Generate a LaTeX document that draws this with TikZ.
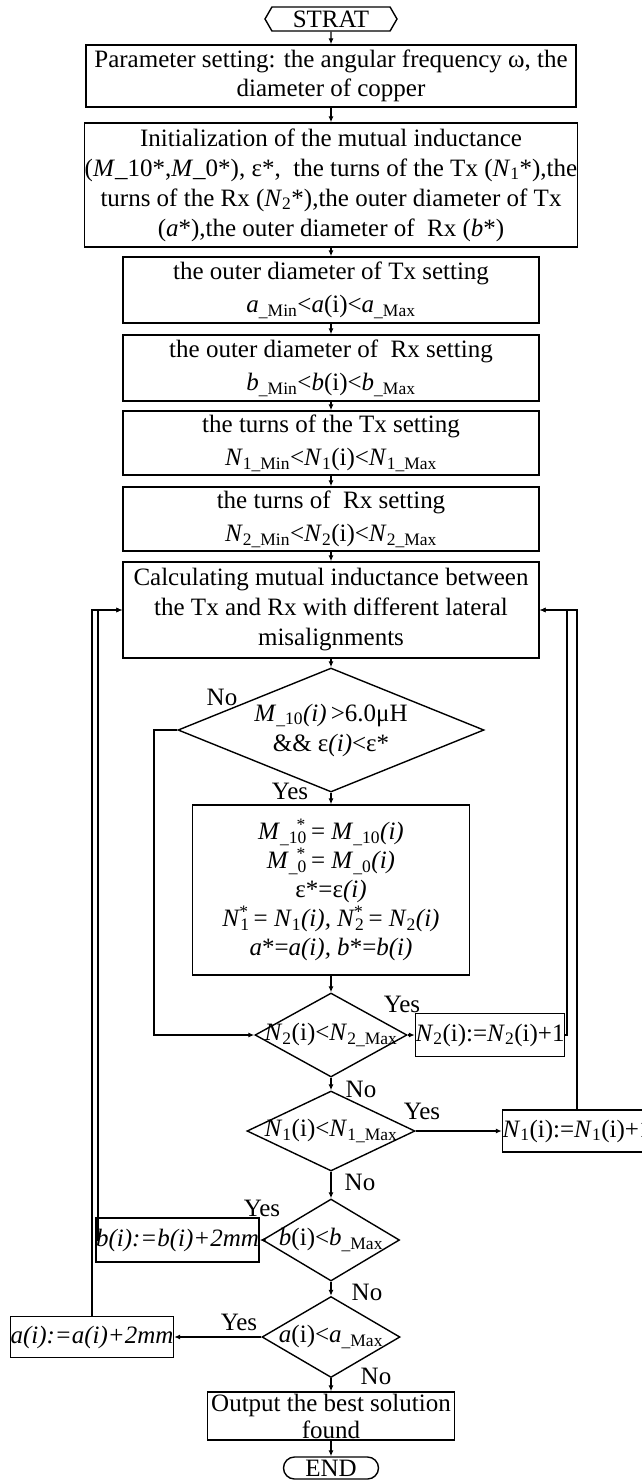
\documentclass[tikz,border=0pt]{standalone}
\usepackage{fontspec}
\setmainfont{Liberation Serif}
\usetikzlibrary{shapes.geometric,shapes.symbols,arrows.meta}

\newcommand{\sbs}[1]{\textsubscript{#1}}
\newcommand{\sbsp}[2]{\textsubscript{#1}\llap{\textsuperscript{#2}\kern1pt}}

\begin{document}
\begin{tikzpicture}[%
    x=1pt, y=-1pt,
    line width=1.4pt,
    font=\fontsize{25}{30}\selectfont,
    >={Latex[length=6pt,width=5pt]},
    process/.style={draw, rectangle, inner sep=0pt, align=center},
    setbox/.style={process, minimum width=416pt, font=\fontsize{25}{33}\selectfont},
    decision/.style={draw, diamond, inner sep=0pt},
    terminal/.style={draw, inner sep=0pt},
    answer/.style={inner sep=0pt}
  ]
    \useasboundingbox (0,0) rectangle (642,1481);

    \node[terminal, signal, signal to=west and east, signal pointer angle=120,
          minimum width=132pt, minimum height=24pt] (strat) at (331,19) {STRAT};
    \node[process, minimum width=490pt, minimum height=62pt,
          font=\fontsize{25}{29}\selectfont] (param) at (331,76)
      {Parameter setting: the angular frequency ω, the\\diameter of copper};
    \node[process, minimum width=490pt, minimum height=124pt] (init) at (331,185)
      {Initialization of the mutual inductance\\
       (\textit{M}\_10*,\textit{M}\_0*), ε*,\ \ the turns of the Tx (\textit{N}\sbs{1}*),the\\
       turns of the Rx (\textit{N}\sbs{2}*),the outer diameter of Tx\\
       (\textit{a}*),the outer diameter of\ \ Rx (\textit{b}*)};

    \node[setbox, minimum height=66pt] (txdia) at (331,290)
      {the outer diameter of Tx setting\\
       \textit{a}\sbs{\_Min}<\textit{a}(i)<\textit{a}\sbs{\_Max}};
    \node[setbox, minimum height=66pt] (rxdia) at (331,368)
      {the outer diameter of\ \ Rx setting\\
       \textit{b}\sbs{\_Min}<\textit{b}(i)<\textit{b}\sbs{\_Max}};
    \node[setbox, minimum height=64pt] (txturn) at (331,443)
      {the turns of the Tx setting\\
       \textit{N}\sbs{1\_Min}<\textit{N}\sbs{1}(i)<\textit{N}\sbs{1\_Max}};
    \node[setbox, minimum height=64pt] (rxturn) at (331,519)
      {the turns of\ \ Rx setting\\
       \textit{N}\sbs{2\_Min}<\textit{N}\sbs{2}(i)<\textit{N}\sbs{2\_Max}};
    \node[process, minimum width=416pt, minimum height=96pt] (calc) at (331,610)
      {Calculating mutual inductance between\\
       the Tx and Rx with different lateral\\
       misalignments};

    \node[decision, minimum width=306pt, minimum height=124pt,
          label={[align=center]center:{\textit{M}\sbs{\_10}\textit{(i)}\,>6.0μH\\
                 \&\&\ ε\textit{(i)}<ε*}}] (cond) at (331,730) {};
    \node[process, minimum width=277pt, minimum height=170pt,
          font=\fontsize{25}{29}\selectfont] (upd) at (331,890)
      {\textit{M}\sbsp{\_10}{*}\,= \textit{M}\sbs{\_10}\textit{(i)}\\
       \textit{M}\sbsp{\_0}{*}\,= \textit{M}\sbs{\_0}\textit{(i)}\\
       ε*=ε\textit{(i)}\\
       \textit{N}\sbsp{1}{*}\,= \textit{N}\sbs{1}\textit{(i), N}\sbsp{2}{*}\,= \textit{N}\sbs{2}\textit{(i)}\\
       \textit{a}*=\textit{a(i), b}*=\textit{b(i)}};

    \node[decision, minimum width=152pt, minimum height=84pt,
          label=center:{\textit{N}\sbs{2}(i)<\textit{N}\sbs{2\_Max}}] (n2chk) at (331,1035) {};
    \node[process, minimum width=142pt, minimum height=43pt] (n2inc) at (490,1035)
      {\textit{N}\sbs{2}(i):=\textit{N}\sbs{2}(i)+1};
    \node[decision, minimum width=168pt, minimum height=80pt,
          label=center:{\textit{N}\sbs{1}(i)<\textit{N}\sbs{1\_Max}}] (n1chk) at (331,1131) {};
    \node[process, minimum width=146pt, minimum height=42pt] (n1inc) at (577,1131)
      {\textit{N}\sbs{1}(i):=\textit{N}\sbs{1}(i)+1};
    \node[decision, minimum width=137pt, minimum height=82pt,
          label=center:{\textit{b}(i)<\textit{b}\sbs{\_Max}}] (bchk) at (331,1240) {};
    \node[process, minimum width=149pt, minimum height=44pt] (binc) at (177.5,1240)
      {\textit{b(i):=b(i)+2mm}};
    \node[decision, minimum width=138pt, minimum height=81pt,
          label=center:{\textit{a}(i)<\textit{a}\sbs{\_Max}}] (achk) at (331,1337) {};
    \node[process, minimum width=160pt, minimum height=41pt] (ainc) at (92,1337)
      {\textit{a(i):=a(i)+2mm}};

    \node[process, minimum width=247pt, minimum height=48pt,
          font=\fontsize{25}{27}\selectfont] (out) at (331,1416)
      {Output the best solution\\found};
    \node[terminal, rounded corners=11pt, minimum width=95pt, minimum height=22pt] (stop) at (331,1468) {END};

    \node[answer] (no1)  at (222,697)  {No};
    \node[answer] (yes1) at (290,791)  {Yes};
    \node[answer] (yes2) at (402,1004) {Yes};
    \node[answer] (no2)  at (361,1089) {No};
    \node[answer] (yes3) at (422,1111) {Yes};
    \node[answer] (no3)  at (360,1182) {No};
    \node[answer] (yes4) at (262,1208) {Yes};
    \node[answer] (no4)  at (367,1292) {No};
    \node[answer] (yes5) at (239,1322) {Yes};
    \node[answer] (no5)  at (376,1376) {No};

    \path[->] (strat)  edge (param)
              (param)  edge (init)
              (init)   edge (txdia)
              (txdia)  edge (rxdia)
              (rxdia)  edge (txturn)
              (txturn) edge (rxturn)
              (rxturn) edge (calc)
              (calc)   edge (cond)
              (cond)   edge (upd)
              (upd)    edge (n2chk)
              (n2chk)  edge (n2inc)
              (n2chk)  edge (n1chk)
              (n1chk)  edge (n1inc)
              (n1chk)  edge (bchk)
              (bchk)   edge (binc)
              (bchk)   edge (achk)
              (achk)   edge (ainc)
              (achk)   edge (out)
              (out)    edge (stop);

    \coordinate (noloop) at (154,730);
    \coordinate (n2loop) at (567,1035);
    \coordinate (bloop)  at (98,1240);
    \draw[->] (cond.west) -- (noloop) |- (n2chk.west);
    \draw[->] (n2inc.east) -- (n2loop) |- (calc.east);
    \draw[->] (n1inc.north) |- (calc.east);
    \draw[->] (binc.west) -- (bloop) |- (calc.west);
    \draw[->] (ainc.north) |- (calc.west);
\end{tikzpicture}
\end{document}
